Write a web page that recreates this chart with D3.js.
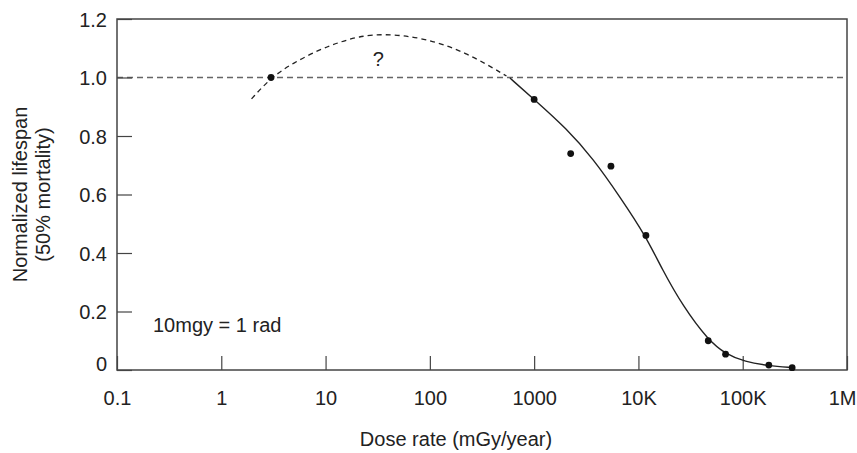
<!DOCTYPE html>
<html>
<head>
<meta charset="utf-8">
<script src="https://cdn.jsdelivr.net/npm/d3@7/dist/d3.min.js"></script>
<style>
  body { margin: 0; background: #fff; }
  svg text { font-family: "Liberation Sans", Arial, sans-serif; fill: #222; }
</style>
</head>
<body>
<svg id="chart" width="857" height="453"></svg>
<script>
// valores
var xTickVals = [0.1, 1, 10, 100, 1000, 1e4, 1e5, 1e6];
var xTickLabels = ["0.1", "1", "10", "100", "1000", "10K", "100K", "1M"];
var yTickVals = [0, 0.2, 0.4, 0.6, 0.8, 1.0, 1.2];
var yTickLabels = ["0", "0.2", "0.4", "0.6", "0.8", "1.0", "1.2"];

// puntos medidos (dosis, vida normalizada)
var doses = [3, 1000, 2240, 5450, 11800, 46700, 68500, 178000, 298000];
var lifespans = [1.0, 0.925, 0.74, 0.697, 0.46, 0.10, 0.054, 0.017, 0.008];

// curva ajustada (linea continua)
var fitDose = [586, 1000, 2050, 3690, 6650, 11800, 16700, 26900, 46700, 69000, 105000, 176000, 298000];
var fitLife = [0.998, 0.925, 0.825, 0.722, 0.592, 0.457, 0.347, 0.216, 0.102, 0.054, 0.028, 0.015, 0.008];

// curva hipotetica (discontinua)
var hypDose = [1.95, 3, 4.9, 8.8, 13.7, 20.6, 35.7, 86, 225, 543];
var hypLife = [0.927, 1.0, 1.05, 1.096, 1.121, 1.14, 1.15, 1.137, 1.086, 1.005];

var svg = d3.select("#chart"),
    margin = {top: 19, right: 10, bottom: 83, left: 117},
    width = +svg.attr("width") - margin.left - margin.right,
    height = +svg.attr("height") - margin.top - margin.bottom,
    g = svg.append("g").attr("transform", "translate(" + margin.left + "," + margin.top + ")");

var x = d3.scaleLog().domain([0.1, 1e6]).range([0, width]),
    y = d3.scaleLinear().domain([0, 1.2]).range([height, 0]);

var axisColor = "#444";

// linea de referencia en 1.0
g.append("line")
    .attr("x1", 0).attr("x2", width)
    .attr("y1", y(1.0)).attr("y2", y(1.0))
    .attr("stroke", "#666")
    .attr("stroke-width", 1.5)
    .attr("stroke-dasharray", "6,4");

// eje x
var xAxis = g.append("g")
    .attr("transform", "translate(0," + height + ")")
    .call(d3.axisBottom(x)
        .tickValues(xTickVals)
        .tickFormat(function(d, i) { return xTickLabels[i]; })
        .tickSizeInner(-14).tickSizeOuter(0).tickPadding(21));
xAxis.select(".domain").remove();
xAxis.selectAll("line").attr("stroke", axisColor).attr("stroke-width", 1.2);
xAxis.selectAll("text").attr("font-size", "20px").attr("fill", "#222");
// la ultima etiqueta se alinea al borde para que no se corte
xAxis.selectAll("text")
    .filter(function(d) { return d === 1e6; })
    .attr("text-anchor", "end")
    .attr("x", 9);

// eje y
var yAxis = g.append("g")
    .call(d3.axisLeft(y)
        .tickValues(yTickVals)
        .tickFormat(function(d, i) { return yTickLabels[i]; })
        .tickSizeInner(-15).tickSizeOuter(0).tickPadding(10));
yAxis.select(".domain").remove();
yAxis.selectAll("line").attr("stroke", axisColor).attr("stroke-width", 1.2);
yAxis.selectAll("text")
    .attr("font-size", "20px").attr("fill", "#222")
    .attr("dy", function(d) { return d === 0 ? "0" : "0.35em"; });

// marco
g.append("rect")
    .attr("width", width).attr("height", height)
    .attr("fill", "none")
    .attr("stroke", axisColor)
    .attr("stroke-width", 1.5);

var line = d3.line()
    .x(function(d) { return x(d[0]); })
    .y(function(d) { return y(d[1]); })
    .curve(d3.curveBasis);

g.append("path")
    .datum(hypDose.map(function(d, i) { return [d, hypLife[i]]; }))
    .attr("d", line)
    .attr("fill", "none")
    .attr("stroke", "#222")
    .attr("stroke-width", 1.3)
    .attr("stroke-dasharray", "5,4");

g.append("path")
    .datum(fitDose.map(function(d, i) { return [d, fitLife[i]]; }))
    .attr("d", line)
    .attr("fill", "none")
    .attr("stroke", "#222")
    .attr("stroke-width", 1.4);

g.selectAll("circle")
    .data(doses.map(function(d, i) { return [d, lifespans[i]]; }))
    .enter().append("circle")
        .attr("cx", function(d) { return x(d[0]); })
        .attr("cy", function(d) { return y(d[1]); })
        .attr("r", 3.4)
        .attr("fill", "#111");

// anotaciones
g.append("text")
    .attr("x", x(32)).attr("y", y(1.04))
    .attr("text-anchor", "middle")
    .attr("font-size", "20px")
    .text("?");

g.append("text")
    .attr("x", 36).attr("y", y(0.13))
    .attr("font-size", "20px")
    .text("10mgy = 1 rad");

// titulos de ejes
svg.append("text")
    .attr("x", 456).attr("y", 446)
    .attr("text-anchor", "middle")
    .attr("font-size", "20px")
    .text("Dose rate (mGy/year)");

var yTitle = svg.append("text")
    .attr("transform", "translate(0," + (margin.top + height / 2) + ") rotate(-90)")
    .attr("text-anchor", "middle")
    .attr("font-size", "20px");
yTitle.append("tspan").attr("x", 0).attr("y", 27).text("Normalized lifespan");
yTitle.append("tspan").attr("x", 0).attr("y", 50).text("(50% mortality)");
</script>
</body>
</html>
